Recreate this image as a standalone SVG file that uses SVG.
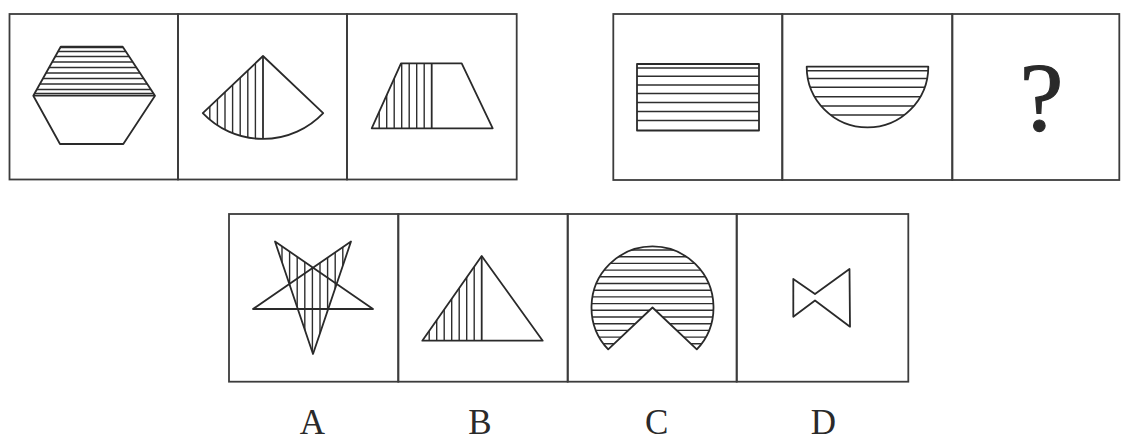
<svg xmlns="http://www.w3.org/2000/svg" width="1121" height="442" viewBox="0 0 1121 442">
<style>
.box{fill:none;stroke:#3c3c3c;stroke-width:1.8}
.sh{fill:none;stroke:#2a2a2a;stroke-width:1.8;stroke-linejoin:round}
.h{stroke:#2e2e2e;stroke-width:1.4}
.lbl{font-family:"Liberation Serif","Times New Roman",serif;fill:#2a2a2a;text-anchor:middle}
</style>
<defs>
<clipPath id="cHex"><polygon points="60.7,46.7 122.7,46.7 155,95.7 33.3,95.7"/></clipPath>
<clipPath id="cSec"><path d="M263,56 L202.8,113.1 A83,83 0 0 0 263,139 Z"/></clipPath>
<clipPath id="cTrap"><polygon points="401,63.3 431.7,63.3 431.7,128.3 371.7,128.3"/></clipPath>
<clipPath id="cRect"><rect x="637" y="64" width="122" height="66.5"/></clipPath>
<clipPath id="cSemi"><path d="M806.7,66.7 L928.3,66.7 A60.8,60.8 0 0 1 806.7,66.7 Z"/></clipPath>
<clipPath id="cStar"><polygon points="275,241.5 313,267.5 351,241.5 313,354"/></clipPath>
<clipPath id="cTri"><polygon points="481.7,256 481.7,340.7 422.3,340.7"/></clipPath>
<clipPath id="cPac"><path d="M652.5,307.5 L696.8,349.4 A61,61 0 1 0 608.2,349.4 Z"/></clipPath>
</defs>

<g id="q1">
<rect class="box" x="9.5" y="14" width="168.5" height="165.5"/>
<g clip-path="url(#cHex)">
<line class="h" x1="20" y1="47.5" x2="170" y2="47.5"/>
<line class="h" x1="20" y1="51.5" x2="170" y2="51.5"/>
<line class="h" x1="20" y1="56.5" x2="170" y2="56.5"/>
<line class="h" x1="20" y1="62" x2="170" y2="62"/>
<line class="h" x1="20" y1="67.5" x2="170" y2="67.5"/>
<line class="h" x1="20" y1="73" x2="170" y2="73"/>
<line class="h" x1="20" y1="78.5" x2="170" y2="78.5"/>
<line class="h" x1="20" y1="84" x2="170" y2="84"/>
<line class="h" x1="20" y1="89.5" x2="170" y2="89.5"/>
<line class="h" x1="20" y1="93.5" x2="170" y2="93.5"/>
</g>
<polygon class="sh" points="60.7,46.7 122.7,46.7 155,95.7 123.3,144 60,144 33.3,95.7"/>
<line class="sh" x1="33.3" y1="95.7" x2="155" y2="95.7"/>
</g>

<g id="q2">
<rect class="box" x="178" y="14" width="169" height="165.5"/>
<g clip-path="url(#cSec)">
<line class="h" x1="255.4" y1="40" x2="255.4" y2="150"/>
<line class="h" x1="247.8" y1="40" x2="247.8" y2="150"/>
<line class="h" x1="240.2" y1="40" x2="240.2" y2="150"/>
<line class="h" x1="232.6" y1="40" x2="232.6" y2="150"/>
<line class="h" x1="225" y1="40" x2="225" y2="150"/>
<line class="h" x1="217.4" y1="40" x2="217.4" y2="150"/>
<line class="h" x1="209.8" y1="40" x2="209.8" y2="150"/>
</g>
<path class="sh" d="M263,56 L202.8,113.1 A83,83 0 0 0 323.2,113.1 Z"/>
<line class="sh" x1="263" y1="56" x2="263" y2="139"/>
</g>

<g id="q3">
<rect class="box" x="347" y="14" width="169.7" height="165.5"/>
<g clip-path="url(#cTrap)">
<line class="h" x1="424.2" y1="55" x2="424.2" y2="135"/>
<line class="h" x1="416.7" y1="55" x2="416.7" y2="135"/>
<line class="h" x1="409.2" y1="55" x2="409.2" y2="135"/>
<line class="h" x1="401.7" y1="55" x2="401.7" y2="135"/>
<line class="h" x1="394.2" y1="55" x2="394.2" y2="135"/>
<line class="h" x1="386.7" y1="55" x2="386.7" y2="135"/>
<line class="h" x1="379.2" y1="55" x2="379.2" y2="135"/>
</g>
<polygon class="sh" points="401,63.3 461.7,63.3 492.7,128.3 371.7,128.3"/>
<line class="sh" x1="431.7" y1="63.3" x2="431.7" y2="128.3"/>
</g>

<g id="q4">
<rect class="box" x="613.3" y="14" width="169" height="166"/>
<g clip-path="url(#cRect)">
<line class="h" x1="630" y1="68" x2="770" y2="68"/>
<line class="h" x1="630" y1="76.3" x2="770" y2="76.3"/>
<line class="h" x1="630" y1="85" x2="770" y2="85"/>
<line class="h" x1="630" y1="93.5" x2="770" y2="93.5"/>
<line class="h" x1="630" y1="102.5" x2="770" y2="102.5"/>
<line class="h" x1="630" y1="111.5" x2="770" y2="111.5"/>
<line class="h" x1="630" y1="120.5" x2="770" y2="120.5"/>
</g>
<rect class="sh" x="637" y="64" width="122" height="66.5"/>
</g>

<g id="q5">
<rect class="box" x="782.3" y="14" width="170" height="166"/>
<g clip-path="url(#cSemi)">
<line class="h" x1="800" y1="70.7" x2="935" y2="70.7"/>
<line class="h" x1="800" y1="78.5" x2="935" y2="78.5"/>
<line class="h" x1="800" y1="87.3" x2="935" y2="87.3"/>
<line class="h" x1="800" y1="96.7" x2="935" y2="96.7"/>
<line class="h" x1="800" y1="106" x2="935" y2="106"/>
<line class="h" x1="800" y1="115" x2="935" y2="115"/>
</g>
<path class="sh" d="M806.7,66.7 L928.3,66.7 A60.8,60.8 0 0 1 806.7,66.7 Z"/>
</g>

<g id="q6">
<rect class="box" x="952.3" y="14" width="167" height="166"/>
<text class="lbl" x="1041.5" y="130" font-size="98" stroke="#2a2a2a" stroke-width="1.2">?</text>
</g>

<g id="optA">
<rect class="box" x="229" y="214" width="169.3" height="167.7"/>
<g clip-path="url(#cStar)">
<line class="h" x1="274.4" y1="230" x2="274.4" y2="360"/>
<line class="h" x1="282" y1="230" x2="282" y2="360"/>
<line class="h" x1="289.6" y1="230" x2="289.6" y2="360"/>
<line class="h" x1="297.2" y1="230" x2="297.2" y2="360"/>
<line class="h" x1="304.8" y1="230" x2="304.8" y2="360"/>
<line class="h" x1="312.4" y1="230" x2="312.4" y2="360"/>
<line class="h" x1="320" y1="230" x2="320" y2="360"/>
<line class="h" x1="327.6" y1="230" x2="327.6" y2="360"/>
<line class="h" x1="335.2" y1="230" x2="335.2" y2="360"/>
<line class="h" x1="342.8" y1="230" x2="342.8" y2="360"/>
<line class="h" x1="350.4" y1="230" x2="350.4" y2="360"/>
</g>
<polygon class="sh" points="275,241.5 313,354 351,241.5 253,309 373,309"/>
</g>

<g id="optB">
<rect class="box" x="398.3" y="214" width="169.4" height="167.7"/>
<g clip-path="url(#cTri)">
<line class="h" x1="474.2" y1="250" x2="474.2" y2="345"/>
<line class="h" x1="466.7" y1="250" x2="466.7" y2="345"/>
<line class="h" x1="459.2" y1="250" x2="459.2" y2="345"/>
<line class="h" x1="451.7" y1="250" x2="451.7" y2="345"/>
<line class="h" x1="444.2" y1="250" x2="444.2" y2="345"/>
<line class="h" x1="436.7" y1="250" x2="436.7" y2="345"/>
<line class="h" x1="429.2" y1="250" x2="429.2" y2="345"/>
</g>
<polygon class="sh" points="481.7,256 542.7,340.7 422.3,340.7"/>
<line class="sh" x1="481.7" y1="256" x2="481.7" y2="340.7"/>
</g>

<g id="optC">
<rect class="box" x="567.7" y="214" width="169" height="167.7"/>
<g clip-path="url(#cPac)">
<line class="h" x1="585" y1="250" x2="720" y2="250"/>
<line class="h" x1="585" y1="256.7" x2="720" y2="256.7"/>
<line class="h" x1="585" y1="263.4" x2="720" y2="263.4"/>
<line class="h" x1="585" y1="270.1" x2="720" y2="270.1"/>
<line class="h" x1="585" y1="276.8" x2="720" y2="276.8"/>
<line class="h" x1="585" y1="283.5" x2="720" y2="283.5"/>
<line class="h" x1="585" y1="290.2" x2="720" y2="290.2"/>
<line class="h" x1="585" y1="296.9" x2="720" y2="296.9"/>
<line class="h" x1="585" y1="303.6" x2="720" y2="303.6"/>
<line class="h" x1="585" y1="310.3" x2="720" y2="310.3"/>
<line class="h" x1="585" y1="317" x2="720" y2="317"/>
<line class="h" x1="585" y1="323.7" x2="720" y2="323.7"/>
<line class="h" x1="585" y1="330.4" x2="720" y2="330.4"/>
<line class="h" x1="585" y1="337.1" x2="720" y2="337.1"/>
<line class="h" x1="585" y1="343.8" x2="720" y2="343.8"/>
</g>
<path class="sh" d="M652.5,307.5 L696.8,349.4 A61,61 0 1 0 608.2,349.4 Z"/>
</g>

<g id="optD">
<rect class="box" x="736.7" y="214" width="171.6" height="167.7"/>
<polygon class="sh" points="793.3,279 815,294 849.5,269 850,326.7 815,300.5 793.3,316.7"/>
</g>

<g id="labels">
<text class="lbl" x="312.3" y="434" font-size="35">A</text>
<text class="lbl" x="480" y="434" font-size="35">B</text>
<text class="lbl" x="656.7" y="434" font-size="35">C</text>
<text class="lbl" x="823.3" y="434" font-size="35">D</text>
</g>
</svg>
